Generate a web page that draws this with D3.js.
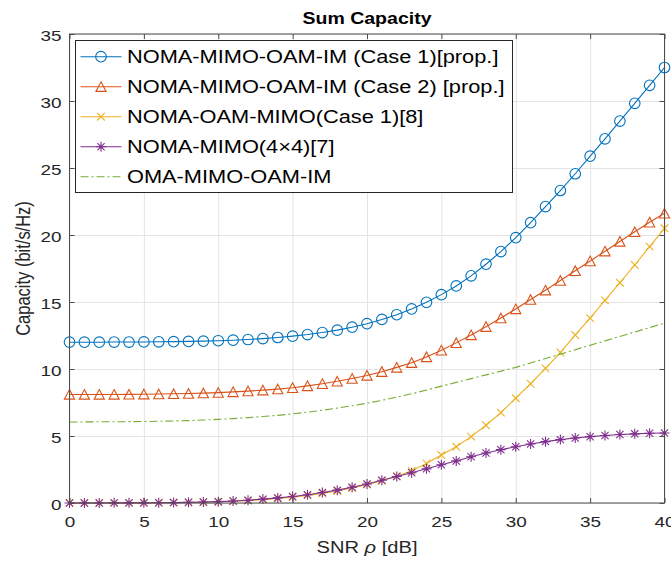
<!DOCTYPE html>
<html><head><meta charset="utf-8">
<script src="https://cdn.jsdelivr.net/npm/d3@7"></script>
<style>
body{margin:0;background:#fff;}
svg{display:block;font-family:"Liberation Sans",Arial,Helvetica,sans-serif;}
</style></head><body>
<svg id="chart" width="671" height="562"></svg>
<script>
// SNR axis (dB)
const snrDb = [0,1,2,3,4,5,6,7,8,9,10,11,12,13,14,15,16,17,18,19,20,21,22,23,24,25,26,27,28,29,30,31,32,33,34,35,36,37,38,39,40];

// Sum capacity per scheme (bit/s/Hz)
const capCase1 = [12.00,12.00,12.00,12.01,12.01,12.02,12.03,12.04,12.06,12.08,12.11,12.15,12.20,12.27,12.35,12.45,12.57,12.72,12.90,13.12,13.38,13.70,14.05,14.48,14.98,15.55,16.20,16.95,17.82,18.76,19.80,20.92,22.12,23.32,24.57,25.88,27.18,28.50,29.83,31.17,32.50];
const capCase2 = [8.10,8.10,8.10,8.10,8.11,8.12,8.13,8.15,8.17,8.20,8.24,8.29,8.35,8.42,8.50,8.60,8.74,8.90,9.08,9.29,9.52,9.80,10.12,10.47,10.90,11.40,11.95,12.54,13.16,13.80,14.48,15.18,15.88,16.60,17.33,18.06,18.79,19.52,20.24,20.95,21.62];
const capNomaOam = [0.00,0.00,0.00,0.01,0.01,0.01,0.02,0.03,0.04,0.06,0.09,0.13,0.18,0.25,0.34,0.44,0.57,0.72,0.90,1.12,1.37,1.66,2.00,2.40,2.95,3.58,4.20,4.95,5.80,6.74,7.82,8.90,10.05,11.23,12.54,13.80,15.12,16.44,17.76,19.13,20.50];
const capNomaMimo = [0.00,0.00,0.00,0.01,0.01,0.01,0.02,0.03,0.05,0.07,0.10,0.15,0.21,0.29,0.38,0.49,0.62,0.78,0.96,1.18,1.42,1.70,1.98,2.26,2.55,2.85,3.14,3.45,3.73,3.98,4.20,4.40,4.58,4.73,4.85,4.95,5.04,5.11,5.16,5.20,5.22];
const capOma = [6.05,6.05,6.06,6.06,6.07,6.08,6.10,6.12,6.15,6.19,6.24,6.30,6.37,6.45,6.54,6.65,6.78,6.92,7.08,7.26,7.45,7.66,7.90,8.15,8.43,8.72,9.00,9.28,9.56,9.84,10.12,10.45,10.78,11.11,11.44,11.77,12.10,12.43,12.76,13.09,13.42];

const xTicks = [0,5,10,15,20,25,30,35,40];
const yTicks = [0,5,10,15,20,25,30,35];

const seriesNames = [
  "NOMA-MIMO-OAM-IM (Case 1)[prop.]",
  "NOMA-MIMO-OAM-IM (Case 2) [prop.]",
  "NOMA-OAM-MIMO(Case 1)[8]",
  "NOMA-MIMO(4\u00D74)[7]",
  "OMA-MIMO-OAM-IM"
];
const seriesValues = [capCase1, capCase2, capNomaOam, capNomaMimo, capOma];
const seriesColors = ["#0072BD", "#D95319", "#EDB120", "#7E2F8E", "#77AC30"];
const seriesMarkers = ["circle", "triangle", "cross", "asterisk", null];
const seriesDash = [null, null, null, null, "8,3,2,3"];

// Horizontal glyph stretch used for all text
const SX = 1.22;

const svg = d3.select("#chart");
const pLeft = 69.5, pRight = 664.5, pTop = 34, pBottom = 503;
const x = d3.scaleLinear().domain([0, 40]).range([pLeft, pRight]);
const y = d3.scaleLinear().domain([0, 35]).range([pBottom, pTop]);

// grid
svg.append("g").attr("transform", `translate(0,${pBottom})`)
  .call(d3.axisBottom(x).tickValues(xTicks).tickSize(-(pBottom - pTop)).tickFormat(""))
  .call(g => g.select(".domain").remove())
  .call(g => g.selectAll("line").attr("stroke", "#e4e4e4").attr("stroke-width", 1));
svg.append("g").attr("transform", `translate(${pLeft},0)`)
  .call(d3.axisLeft(y).tickValues(yTicks).tickSize(-(pRight - pLeft)).tickFormat(""))
  .call(g => g.select(".domain").remove())
  .call(g => g.selectAll("line").attr("stroke", "#e4e4e4").attr("stroke-width", 1));

// marker shapes
const markerPath = {
  circle: d3.symbol(d3.symbolCircle, Math.PI * 5.3 * 5.3)(),
  triangle: "M0,-4.9L5.1,4.7L-5.1,4.7Z",
  cross: "M-3.8,-3.8L3.8,3.8M-3.8,3.8L3.8,-3.8",
  asterisk: "M-5,0H5M0,-5V5M-3.6,-3.6L3.6,3.6M-3.6,3.6L3.6,-3.6"
};

const line = d3.line().x(d => x(d[0])).y(d => y(d[1]));

seriesValues.forEach((vals, i) => {
  const pts = snrDb.map((s, k) => [s, vals[k]]);
  const g = svg.append("g");
  g.append("path").datum(pts).attr("d", line)
    .attr("fill", "none").attr("stroke", seriesColors[i]).attr("stroke-width", 1.1)
    .attr("stroke-dasharray", seriesDash[i]);
  if (seriesMarkers[i]) {
    g.selectAll("path.m").data(pts).join("path").attr("class", "m")
      .attr("d", markerPath[seriesMarkers[i]])
      .attr("transform", d => `translate(${x(d[0])},${y(d[1])})`)
      .attr("fill", "none").attr("stroke", seriesColors[i]).attr("stroke-width", 1.1);
  }
});

// axes with inward ticks on all four sides
const axisColor = "#4d4d4d";
function styleAxis(g) {
  g.select(".domain").remove();
  g.selectAll("line").attr("stroke", axisColor);
  g.selectAll("text").attr("fill", "#262626").attr("font-size", 15.5)
    .attr("font-family", "Liberation Sans, Arial, sans-serif");
}
const gx = svg.append("g").attr("transform", `translate(0,${pBottom})`)
  .call(d3.axisBottom(x).tickValues(xTicks).tickSizeInner(-5).tickSizeOuter(0).tickPadding(13))
  .call(styleAxis);
gx.selectAll("text").attr("transform", `scale(${SX},1)`);
const gy = svg.append("g").attr("transform", `translate(${pLeft},0)`)
  .call(d3.axisLeft(y).tickValues(yTicks).tickSizeInner(-5).tickSizeOuter(0).tickPadding(6.5))
  .call(styleAxis);
gy.selectAll("text").attr("transform", `scale(${SX},1)`).attr("dy", "0.4em");
svg.append("g").attr("transform", `translate(0,${pTop})`)
  .call(d3.axisTop(x).tickValues(xTicks).tickSizeInner(-5).tickSizeOuter(0).tickFormat(""))
  .call(styleAxis);
svg.append("g").attr("transform", `translate(${pRight},0)`)
  .call(d3.axisRight(y).tickValues(yTicks).tickSizeInner(-5).tickSizeOuter(0).tickFormat(""))
  .call(styleAxis);

svg.append("rect").attr("x", pLeft).attr("y", pTop)
  .attr("width", pRight - pLeft).attr("height", pBottom - pTop)
  .attr("fill", "none").attr("stroke", axisColor).attr("stroke-width", 1);

// title and axis labels
svg.append("text").attr("transform", `translate(${(pLeft + pRight) / 2},24) scale(${SX},1)`)
  .attr("text-anchor", "middle").attr("font-weight", "bold").attr("font-size", 16)
  .attr("fill", "#000").text("Sum Capacity");

const xl = svg.append("text")
  .attr("transform", `translate(${(pLeft + pRight) / 2},553) scale(${SX},1)`)
  .attr("text-anchor", "middle").attr("font-size", 16.5).attr("fill", "#262626");
xl.append("tspan").text("SNR ");
xl.append("tspan").attr("font-style", "italic").text("\u03C1");
xl.append("tspan").text(" [dB]");

svg.append("text")
  .attr("transform", `translate(30,${(pTop + pBottom) / 2}) scale(${SX},1) rotate(-90)`)
  .attr("text-anchor", "middle").attr("font-size", 16.5).attr("fill", "#262626")
  .text("Capacity (bit/s/Hz)");

// legend
const lg = svg.append("g");
lg.append("rect").attr("x", 75.5).attr("y", 40.5).attr("width", 437).attr("height", 152)
  .attr("fill", "#fff").attr("stroke", "#262626").attr("stroke-width", 1);
seriesNames.forEach((name, i) => {
  const cy = 56.7 + i * 30;
  lg.append("line").attr("x1", 80.5).attr("x2", 121.5).attr("y1", cy).attr("y2", cy)
    .attr("stroke", seriesColors[i]).attr("stroke-width", 1.1)
    .attr("stroke-dasharray", seriesDash[i]);
  if (seriesMarkers[i]) {
    lg.append("path").attr("d", markerPath[seriesMarkers[i]])
      .attr("transform", `translate(101,${cy})`)
      .attr("fill", "none").attr("stroke", seriesColors[i]).attr("stroke-width", 1.1);
  }
  lg.append("text").attr("transform", `translate(127,${cy + 6.3}) scale(1.245,1)`)
    .attr("font-size", 17.5).attr("fill", "#000").text(name);
});
</script>
</body></html>
